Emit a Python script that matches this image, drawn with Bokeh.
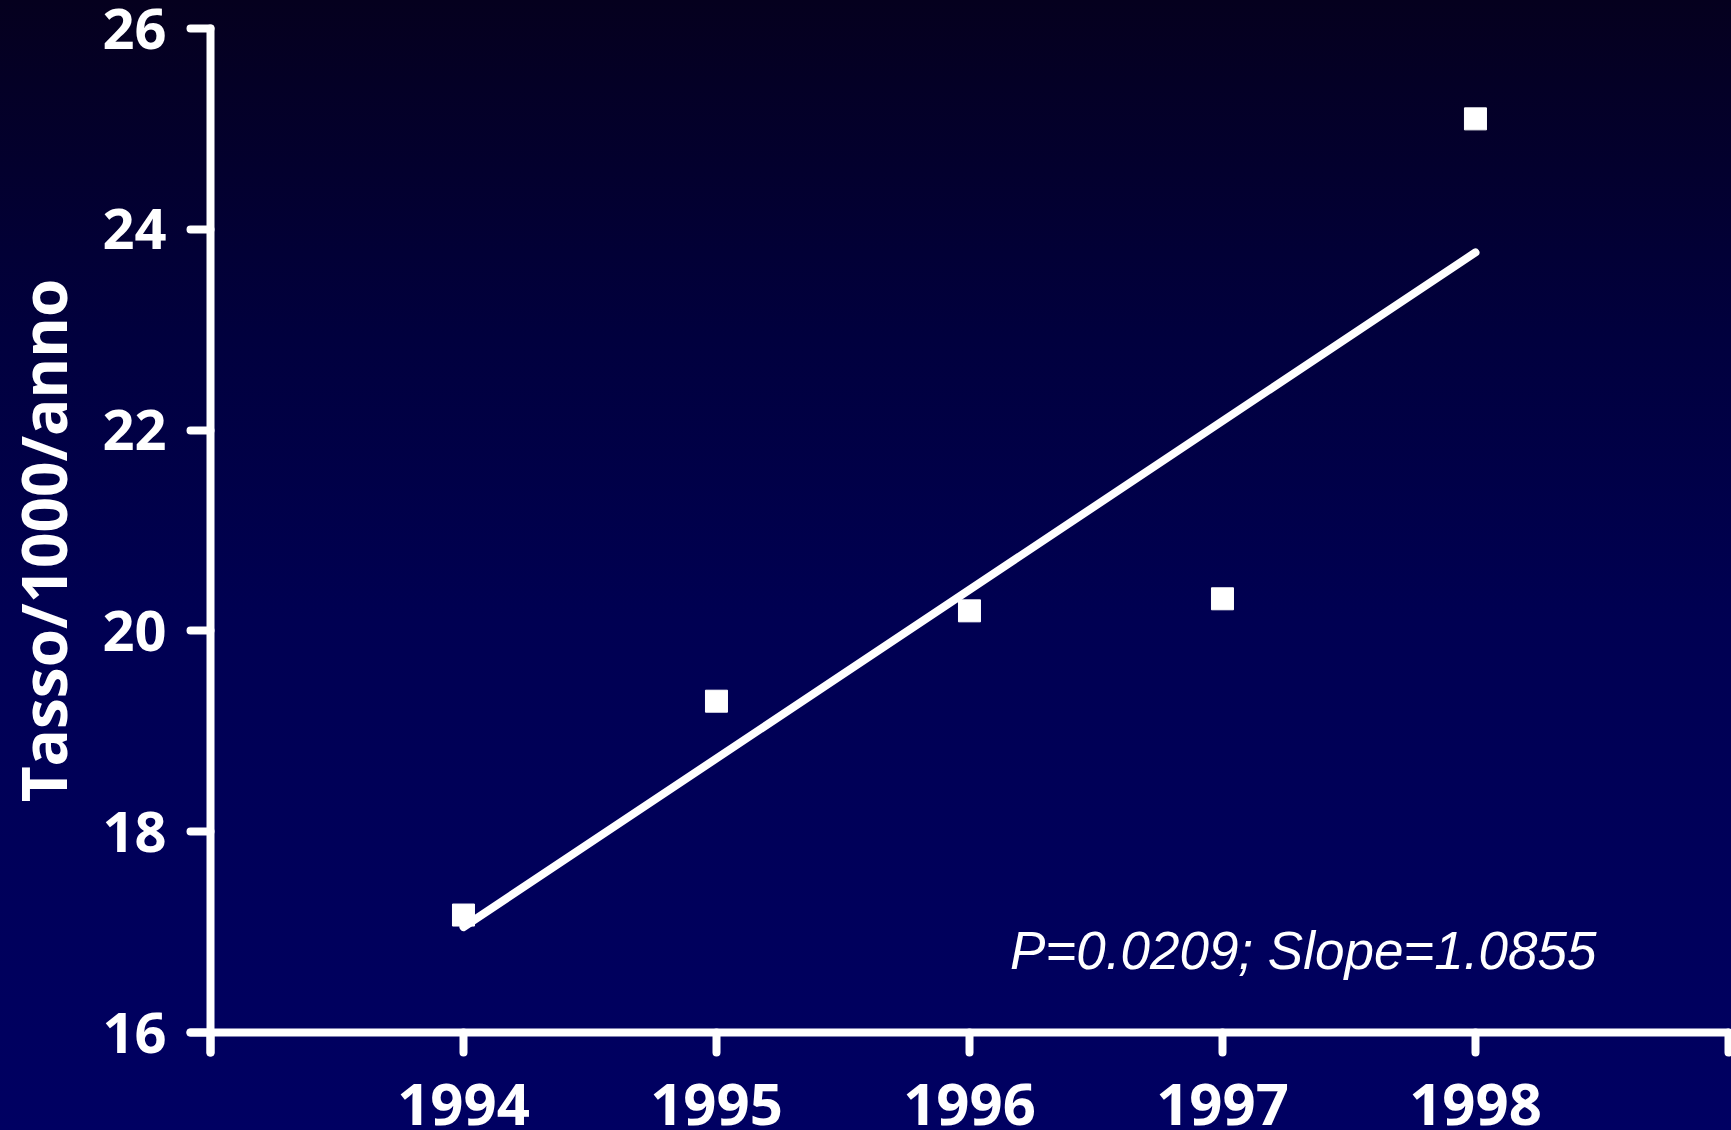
from bokeh.plotting import figure
from bokeh.models import FixedTicker, Label, Range1d
from bokeh.embed import file_html
from bokeh.resources import INLINE

# ---- data ----
years = [1994, 1995, 1996, 1997, 1998]
rates = [17.17, 19.30, 20.20, 20.32, 25.10]
trend_years = [1994, 1998]
trend_rates = [17.05, 23.77]
x_ticks = [1993, 1994, 1995, 1996, 1997, 1998, 1999]
x_tick_labels = ["", "1994", "1995", "1996", "1997", "1998", ""]
y_ticks = [16, 18, 20, 22, 24, 26]
y_tick_labels = ["16", "18", "20", "22", "24", "26"]
y_title = "Tasso/1000/anno"
note = "P=0.0209; Slope=1.0855"

W, H = 1731, 1130
p = figure(width=W, height=H, output_backend="svg", toolbar_location=None,
           x_range=Range1d(1992.170, 1999.012), y_range=Range1d(15.024, 26.279),
           min_border=0, min_border_left=0, min_border_right=0,
           min_border_top=0, min_border_bottom=0)
p.styles = {"background": "linear-gradient(to bottom, #05001e 0%, #01003e 30%, #000052 55%, #000062 100%)"}
p.background_fill_color = None
p.border_fill_color = None
p.outline_line_color = None
p.grid.visible = False

# x axis
xa = p.xaxis[0]
xa.fixed_location = 16
xa.bounds = (1992.92, 1999)
xa.ticker = FixedTicker(ticks=x_ticks)
xa.major_label_overrides = {t: l for t, l in zip(x_ticks, x_tick_labels)}
xa.minor_tick_line_color = None
xa.axis_line_color = "white"
xa.axis_line_width = 8
xa.axis_line_cap = "round"
xa.major_tick_line_color = "white"
xa.major_tick_line_width = 8
xa.major_tick_line_cap = "round"
xa.major_tick_in = 0
xa.major_tick_out = 20
xa.major_label_standoff = 31
xa.major_label_text_color = "white"
xa.major_label_text_font = "Open Sans"
xa.major_label_text_font_style = "bold"
xa.major_label_text_font_size = "58px"

# y axis
ya = p.yaxis[0]
ya.fixed_location = 1993
ya.bounds = (15.8, 26)
ya.ticker = FixedTicker(ticks=y_ticks)
ya.major_label_overrides = {t: l for t, l in zip(y_ticks, y_tick_labels)}
ya.minor_tick_line_color = None
ya.axis_line_color = "white"
ya.axis_line_width = 8
ya.axis_line_cap = "round"
ya.major_tick_line_color = "white"
ya.major_tick_line_width = 8
ya.major_tick_line_cap = "round"
ya.major_tick_in = 0
ya.major_tick_out = 20
ya.major_label_standoff = 24
ya.major_label_text_color = "white"
ya.major_label_text_font = "Open Sans"
ya.major_label_text_font_style = "bold"
ya.major_label_text_font_size = "56px"
ya.axis_label = y_title
ya.axis_label_text_color = "white"
ya.axis_label_text_font = "Open Sans"
ya.axis_label_text_font_style = "bold"
ya.axis_label_text_font_size = "62px"
ya.axis_label_standoff = 14

# trend line and points
p.line(trend_years, trend_rates, line_color="white", line_width=8, line_cap="round")
p.scatter(years, rates, marker="square", size=22, fill_color="white", line_color="white")

p.add_layout(Label(x=1996.16, y=16.82, text=note, text_color="white",
                   text_font="Liberation Sans", text_font_style="italic",
                   text_font_size="53px", text_baseline="alphabetic"))

open("out.html", "w").write(file_html(p, INLINE))
